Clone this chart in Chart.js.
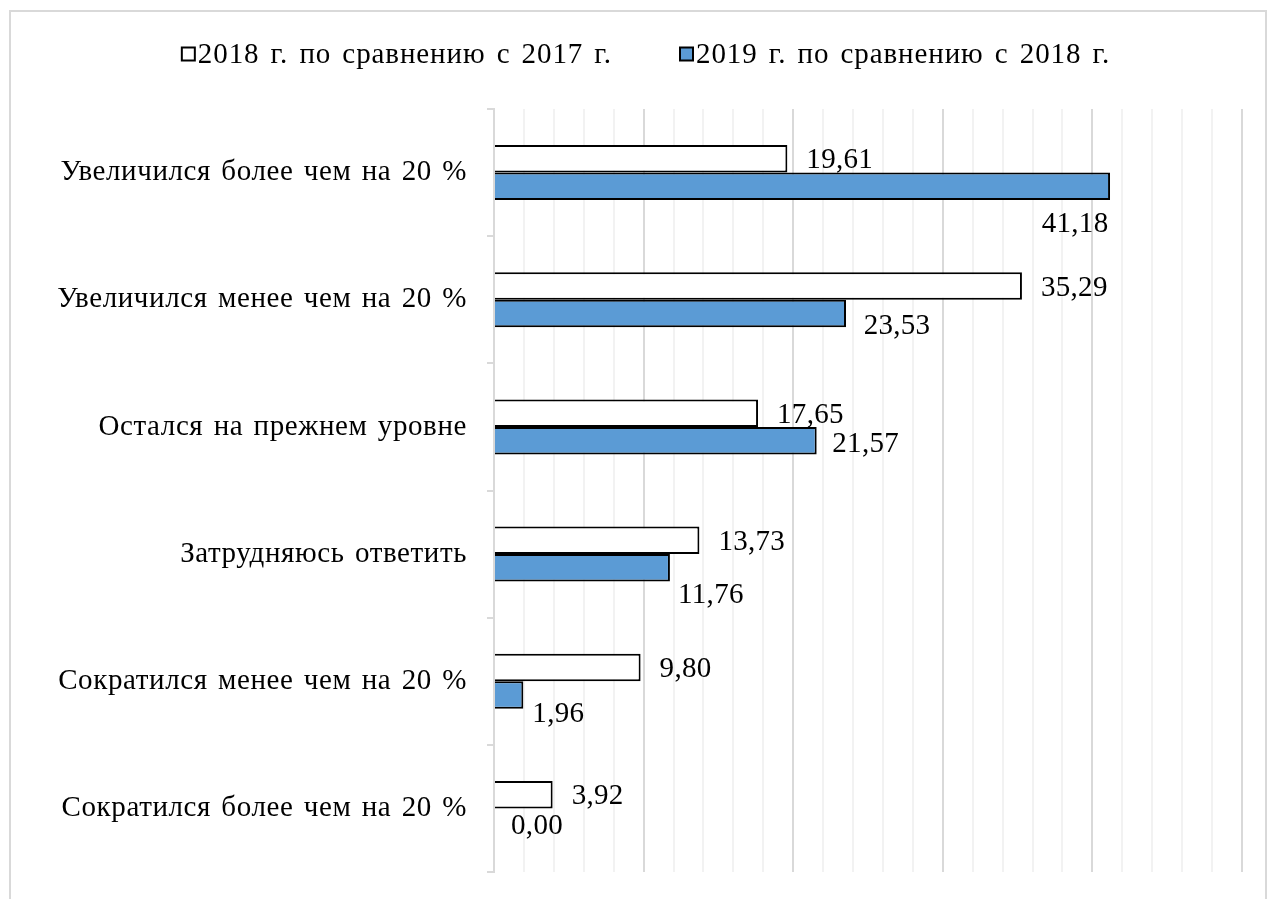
<!DOCTYPE html>
<html>
<head>
<meta charset="utf-8">
<script src="https://cdn.jsdelivr.net/npm/chart.js@4.4.1/dist/chart.umd.min.js"></script>
<style>
  html, body { margin: 0; padding: 0; background: #ffffff; }
  #wrap { position: relative; width: 1270px; height: 899px; }
</style>
</head>
<body>
<div id="wrap"><canvas id="c" width="1270" height="899"></canvas></div>
<script>
const categories = [
  'Увеличился более чем на 20 %',
  'Увеличился менее чем на 20 %',
  'Остался на прежнем уровне',
  'Затрудняюсь ответить',
  'Сократился менее чем на 20 %',
  'Сократился более чем на 20 %'
];
const seriesNames = ['2018 г. по сравнению с 2017 г.', '2019 г. по сравнению с 2018 г.'];
const values2018 = [19.61, 35.29, 17.65, 13.73, 9.80, 3.92];
const values2019 = [41.18, 23.53, 21.57, 11.76, 1.96, 0.00];
const axisMin = 0;
const axisMax = 50;
const minorStep = 2;
const majorStep = 10;

const FONT = '"Liberation Serif", "Times New Roman", serif';
const FONT_SIZE = 29;
const BLUE = '#5b9bd5';

// label placement (style): text-centre offset from bar end / bar centre for the 2019 series
const blueLabelOffsets = [[-35, 36], [51, 11], [49, 2], [41, 26], [35, 17], [43, 2]];
const whiteLabelGap = 19;

const fmt = v => v.toFixed(2).replace('.', ',');

const textSpacing = {
  id: 'textSpacing',
  beforeDraw(chart) { chart.ctx.letterSpacing = '0.6px'; chart.ctx.wordSpacing = '2.5px'; }
};

const frameAndLegend = {
  id: 'frameAndLegend',
  afterDraw(chart) {
    const ctx = chart.ctx;
    ctx.save();
    ctx.letterSpacing = '0.9px';
    ctx.wordSpacing = '3px';
    // outer frame
    ctx.strokeStyle = '#d9d9d9';
    ctx.lineWidth = 2;
    ctx.strokeRect(10, 11, 1256, 900);
    // legend
    ctx.font = FONT_SIZE + 'px ' + FONT;
    ctx.textBaseline = 'middle';
    ctx.textAlign = 'left';
    const box = 13, gapBox = 3, gapItem = 68;
    const w0 = ctx.measureText(seriesNames[0]).width;
    const w1 = ctx.measureText(seriesNames[1]).width;
    const total = box + gapBox + w0 + gapItem + box + gapBox + w1;
    let x = 646 - total / 2;
    const cy = 54;
    const fills = ['#ffffff', BLUE];
    const widths = [w0, w1];
    for (let i = 0; i < 2; i++) {
      ctx.fillStyle = fills[i];
      ctx.fillRect(x, cy - box / 2, box, box);
      ctx.strokeStyle = '#000';
      ctx.lineWidth = 2;
      ctx.strokeRect(x, cy - box / 2, box, box);
      ctx.fillStyle = '#000';
      ctx.fillText(seriesNames[i], x + box + gapBox, cy + 1);
      x += box + gapBox + widths[i] + gapItem;
    }
    ctx.restore();
  }
};

const valueLabels = {
  id: 'valueLabels',
  afterDatasetsDraw(chart) {
    const ctx = chart.ctx;
    ctx.save();
    ctx.letterSpacing = '0.3px';
    ctx.wordSpacing = '0px';
    ctx.font = FONT_SIZE + 'px ' + FONT;
    ctx.fillStyle = '#000';
    ctx.textBaseline = 'middle';
    chart.getDatasetMeta(0).data.forEach((bar, i) => {
      ctx.textAlign = 'left';
      ctx.fillText(fmt(values2018[i]), bar.x + whiteLabelGap, bar.y + 2);
    });
    chart.getDatasetMeta(1).data.forEach((bar, i) => {
      ctx.textAlign = 'center';
      const o = blueLabelOffsets[i];
      ctx.fillText(fmt(values2019[i]), bar.x + o[0], bar.y + o[1] + 2);
    });
    ctx.restore();
  }
};

new Chart(document.getElementById('c'), {
  type: 'bar',
  data: {
    labels: categories,
    datasets: [
      { label: seriesNames[0], data: values2018, backgroundColor: '#ffffff', borderColor: '#000000', borderWidth: 2,
        barPercentage: 1, categoryPercentage: 0.4325 },
      { label: seriesNames[1], data: values2019, backgroundColor: BLUE, borderColor: '#000000', borderWidth: 2,
        barPercentage: 1, categoryPercentage: 0.4325 }
    ]
  },
  options: {
    indexAxis: 'y',
    responsive: false,
    devicePixelRatio: 1,
    animation: false,
    layout: { padding: { left: 0, right: 28, top: 109, bottom: 27 } },
    plugins: { legend: { display: false }, tooltip: { enabled: false } },
    scales: {
      x: {
        min: axisMin, max: axisMax,
        ticks: { display: false, stepSize: minorStep },
        grid: {
          drawTicks: false,
          lineWidth: 2,
          color: c => (c.tick && c.tick.value % majorStep === 0) ? '#d9d9d9' : '#f2f2f2'
        },
        border: { display: false },
        afterFit: s => { s.height = 0; s.paddingLeft = 0; s.paddingRight = 0; }
      },
      y: {
        ticks: { color: '#000', font: { family: FONT, size: FONT_SIZE }, padding: 20 },
        grid: { offset: true, drawOnChartArea: false, drawTicks: true, tickLength: 7, color: '#d9d9d9', lineWidth: 2 },
        border: { display: true, color: '#d9d9d9', width: 2 },
        afterFit: s => { s.width = 494; s.paddingTop = 0; s.paddingBottom = 0; }
      }
    }
  },
  plugins: [textSpacing, frameAndLegend, valueLabels]
});
</script>
</body>
</html>
